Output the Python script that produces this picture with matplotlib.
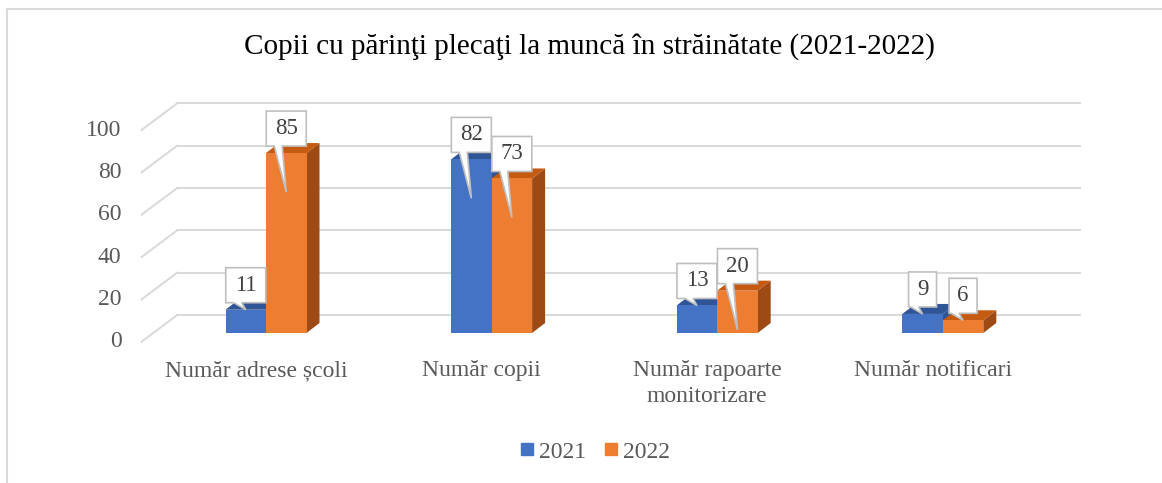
import matplotlib
matplotlib.use('Agg')
import matplotlib.pyplot as plt
from matplotlib.patches import Polygon
from matplotlib.lines import Line2D

# data
categories = ["Număr adrese școli", "Număr copii", "Număr rapoarte\nmonitorizare", "Număr notificari"]
series_names = ["2021", "2022"]
values_2021 = [11, 82, 13, 9]
values_2022 = [85, 73, 20, 6]
y_ticks = [0, 20, 40, 60, 80, 100]
title = "Copii cu părinţi plecaţi la muncă în străinătate (2021-2022)"

# style
FRONT = ["#4472C4", "#ED7D31"]
TOP = ["#2F5597", "#C55A11"]
SIDE = ["#2F5597", "#9E4A15"]
GRID = "#D9D9D9"
TXT = "#595959"
FONT = "Liberation Serif"
# how far (px) each callout tail reaches below the bar top, per series
TAIL_DROP = [[0, 39, 0, 0], [39, 39, 39, 0]]

# pixel layout of the figure
W, H = 1162, 483
PX_X = 225.6      # px per category
PX_Y = 2.117      # px per value unit
X0_PX = 266       # px of category 0
Y0_PX = 333       # px from top of value 0 (bar plane)


def dx(px):
	return px / PX_X


def dy(px):
	return px / PX_Y


BAR_W = dx(40.5)
DEPTH = (dx(13), dy(10))          # bar depth
BACK = (dx(24), dy(18))           # back wall relative to bar plane
FRONT_OFF = (dx(-11.6), dy(-8.7))  # front edge of side wall

fig = plt.figure(figsize=(W / 100, H / 100), dpi=100)
ax = fig.add_axes([0, 0, 1, 1])
ax.set_xlim(-X0_PX / PX_X, (W - X0_PX) / PX_X)
ax.set_ylim(-(H - Y0_PX) / PX_Y, Y0_PX / PX_Y)
ax.axis('off')

x_lo, x_hi = -0.5, len(categories) - 0.5

# back wall and side wall gridlines
for t in y_ticks:
	ax.plot([x_lo + BACK[0], x_hi + BACK[0]], [t + BACK[1], t + BACK[1]], color=GRID, lw=1.4, zorder=1)
	ax.plot([x_lo + FRONT_OFF[0], x_lo + BACK[0]], [t + FRONT_OFF[1], t + BACK[1]], color=GRID, lw=1.4, zorder=1)
	ax.text(x_lo + FRONT_OFF[0] - dx(20), t + FRONT_OFF[1], str(t), ha='right', va='center',
			fontsize=17, color=TXT, family=FONT)


def bar3d(x0, h, i):
	w = BAR_W
	ddx, ddy = DEPTH
	front = Polygon([(x0, 0), (x0 + w, 0), (x0 + w, h), (x0, h)], closed=True, fc=FRONT[i], ec='none', zorder=3)
	top = Polygon([(x0, h), (x0 + w, h), (x0 + w + ddx, h + ddy), (x0 + ddx, h + ddy)], closed=True,
				  fc=TOP[i], ec='none', zorder=3)
	side = Polygon([(x0 + w, 0), (x0 + w + ddx, ddy), (x0 + w + ddx, h + ddy), (x0 + w, h)], closed=True,
				   fc=SIDE[i], ec='none', zorder=3)
	for p in (side, top, front):
		ax.add_patch(p)


def callout(xc, h, label, drop):
	bw = dx(40 if len(label) > 1 else 28)
	bh = dy(35)
	bottom = h + dy(7)
	tip_y = h - dy(drop)
	verts = [(xc - bw / 2, bottom + bh), (xc + bw / 2, bottom + bh), (xc + bw / 2, bottom),
			 (xc - dx(4), bottom), (xc, tip_y), (xc - dx(12), bottom), (xc - bw / 2, bottom)]
	ax.add_patch(Polygon(verts, closed=True, fc='white', ec='#BFBFBF', lw=1.2, zorder=5))
	ax.text(xc, bottom + bh / 2, label, ha='center', va='center', fontsize=16.5, color='#404040',
			family=FONT, zorder=6)


for c in range(len(categories)):
	for i, vals in enumerate([values_2021, values_2022]):
		x0 = c - BAR_W + i * BAR_W
		bar3d(x0, vals[c], i)

for c in range(len(categories)):
	for i, vals in enumerate([values_2021, values_2022]):
		x0 = c - BAR_W + i * BAR_W
		callout(x0 + BAR_W / 2, vals[c], str(vals[c]), TAIL_DROP[i][c])

# category labels
for c, name in enumerate(categories):
	ax.text(c + dx(-10), dy(-27), name, ha='center', va='top', fontsize=17, color=TXT,
			family=FONT, linespacing=1.3)

# title
fig.text(0.507, 1 - 47 / H, title, ha='center', va='center', fontsize=21, color='black', family=FONT)

# legend
handles = [Line2D([], [], marker='s', ls='none', color=c, markersize=8) for c in FRONT]
leg = fig.legend(handles, series_names, loc='center', bbox_to_anchor=(0.5125, 1 - 452 / H), ncol=2,
				 frameon=False, prop={'family': FONT, 'size': 17}, handlelength=0.5, handletextpad=0.25,
				 columnspacing=0.8)
for t in leg.get_texts():
	t.set_color(TXT)

# chart border
fig.add_artist(Line2D([7 / W, 7 / W], [0, 1 - 9 / H], color=GRID, lw=1.5, transform=fig.transFigure))
fig.add_artist(Line2D([7 / W, 1], [1 - 9 / H, 1 - 9 / H], color=GRID, lw=1.5, transform=fig.transFigure))

fig.savefig("out.png", dpi=100)
